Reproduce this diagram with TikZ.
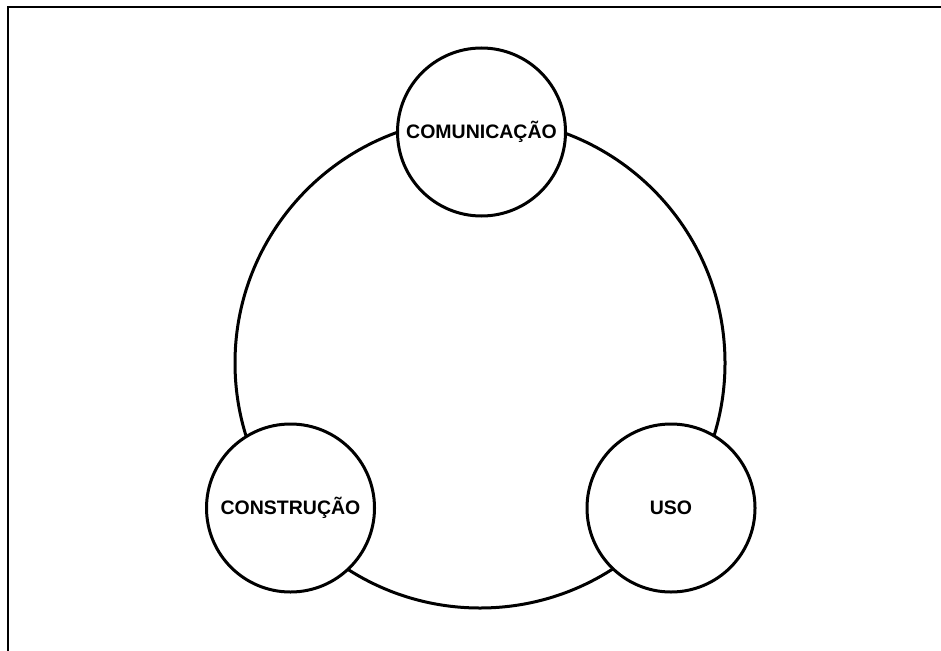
\documentclass[tikz,border=0pt]{standalone}
\usepackage{fontspec}
\setmainfont{Liberation Sans}
\begin{document}
\begin{tikzpicture}[x=1pt,y=-1pt,
  ring/.style={circle,draw=black,line width=3pt,minimum size=490pt,inner sep=0pt},
  topic/.style={circle,draw=black,fill=white,line width=3pt,minimum size=168pt,inner sep=0pt,
    font=\bfseries\fontsize{19.5}{22}\selectfont}]
\useasboundingbox (0,0) rectangle (941,650);
\fill[white] (0,0) rectangle (941,650);
\draw[line width=2.5pt] (8,652) -- (8,7) -- (943,7);
\node[ring] (bigring) at (480,363) {};
\node[topic] (com) at (481.5,132) {COMUNICAÇÃO};
\node[topic] (cons) at (290.5,508) {CONSTRUÇÃO};
\node[topic] (uso) at (671,508) {USO};
\end{tikzpicture}
\end{document}
